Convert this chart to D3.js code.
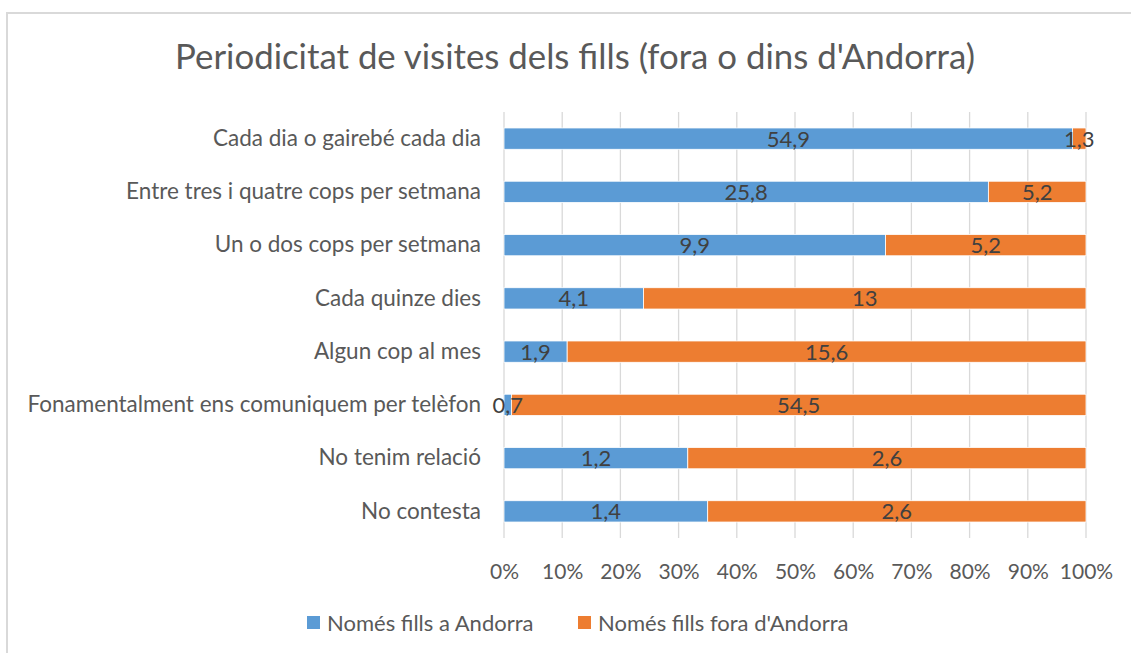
<!DOCTYPE html>
<html>
<head>
<meta charset="utf-8">
<script src="https://cdn.jsdelivr.net/npm/d3@7"></script>
<style>
  body { margin: 0; background: #fff; }
  text { font-family: Lato, "Open Sans", sans-serif; }
</style>
</head>
<body>
<div id="chart"></div>
<script>
var svgWidth = 1131;
var svgHeight = 653;

// data
var categories = [
    "Cada dia o gairebé cada dia",
    "Entre tres i quatre cops per setmana",
    "Un o dos cops per setmana",
    "Cada quinze dies",
    "Algun cop al mes",
    "Fonamentalment ens comuniquem per telèfon",
    "No tenim relació",
    "No contesta"
];
var seriesNames = ["Només fills a Andorra", "Només fills fora d'Andorra"];
var andorra = [54.9, 25.8, 9.9, 4.1, 1.9, 0.7, 1.2, 1.4];
var fora = [1.3, 5.2, 5.2, 13, 15.6, 54.5, 2.6, 2.6];
var tickValues = [0, 0.1, 0.2, 0.3, 0.4, 0.5, 0.6, 0.7, 0.8, 0.9, 1];
var colors = ["#5B9BD5", "#ED7D31"];

var margin = { top: 112, left: 504, right: 45, bottom: 115 };

var svg = d3.select("#chart")
    .append("svg")
    .attr("width", svgWidth)
    .attr("height", svgHeight);

// chart border
svg.append("path")
    .attr("d", "M7," + svgHeight + " V13 H" + svgWidth)
    .attr("fill", "none")
    .attr("stroke", "#d9d9d9")
    .attr("stroke-width", 2);

svg.append("text")
    .attr("x", 575)
    .attr("y", 69)
    .attr("text-anchor", "middle")
    .attr("font-size", 34.8)
    .attr("fill", "#595959")
    .text("Periodicitat de visites dels fills (fora o dins d'Andorra)");

var x = d3.scaleLinear()
    .domain([0, 1])
    .range([margin.left, 1086]);

var y = d3.scaleBand()
    .domain(categories)
    .range([margin.top, 538])
    .paddingInner(0.6)
    .paddingOuter(0.3);

// gridlines
svg.append("g")
    .selectAll("line")
    .data(tickValues)
    .enter()
    .append("line")
    .attr("x1", d => x(d))
    .attr("x2", d => x(d))
    .attr("y1", margin.top)
    .attr("y2", 538)
    .attr("stroke", "#d9d9d9")
    .attr("stroke-width", 1.3);

// x axis labels
var xAxis = d3.axisBottom(x)
    .tickValues(tickValues)
    .tickFormat(d => Math.round(d * 100) + "%")
    .tickSize(0)
    .tickPadding(0);

var gx = svg.append("g")
    .attr("transform", "translate(0,564)")
    .call(xAxis);
gx.select(".domain").remove();
gx.selectAll("text")
    .attr("font-size", 21)
    .attr("fill", "#595959")
    .attr("font-family", "Lato, sans-serif");

// y axis labels
var yAxis = d3.axisLeft(y).tickSize(0).tickPadding(0);
var gy = svg.append("g")
    .attr("transform", "translate(481,0)")
    .call(yAxis);
gy.select(".domain").remove();
gy.selectAll("text")
    .attr("font-size", 22.5)
    .attr("fill", "#595959")
    .attr("font-family", "Lato, sans-serif");

// stacked, normalised
var rows = categories.map(function (c, i) {
    return { cat: c, a: andorra[i], b: fora[i] };
});
var stack = d3.stack()
    .keys(["a", "b"])
    .offset(d3.stackOffsetExpand);
var layers = stack(rows);

var groups = svg.append("g")
    .selectAll("g")
    .data(layers)
    .enter()
    .append("g")
    .attr("fill", (d, i) => colors[i]);

groups.selectAll("rect")
    .data(d => d)
    .enter()
    .append("rect")
    .attr("x", d => x(d[0]))
    .attr("y", d => y(d.data.cat))
    .attr("width", d => x(d[1]) - x(d[0]))
    .attr("height", y.bandwidth())
    .attr("stroke", "#fff")
    .attr("stroke-width", 0.8);

// data labels
layers.forEach(function (layer) {
    svg.append("g")
        .selectAll("text")
        .data(layer)
        .enter()
        .append("text")
        .attr("x", d => (x(d[0]) + x(d[1])) / 2)
        .attr("y", d => y(d.data.cat) + y.bandwidth() / 2)
        .attr("dy", "0.36em")
        .attr("text-anchor", "middle")
        .attr("font-size", 22)
        .attr("fill", "#404040")
        .text(d => String(d.data[layer.key]).replace(".", ","));
});

// legend
var legend = svg.append("g")
    .selectAll("g")
    .data(seriesNames)
    .enter()
    .append("g")
    .attr("transform", (d, i) => "translate(" + [307, 578][i] + ",616)");

legend.append("rect")
    .attr("width", 13)
    .attr("height", 13)
    .attr("fill", (d, i) => colors[i]);

legend.append("text")
    .attr("x", 20)
    .attr("y", 7)
    .attr("dy", "0.36em")
    .attr("font-size", 22)
    .attr("fill", "#595959")
    .text(d => d);
</script>
</body>
</html>
